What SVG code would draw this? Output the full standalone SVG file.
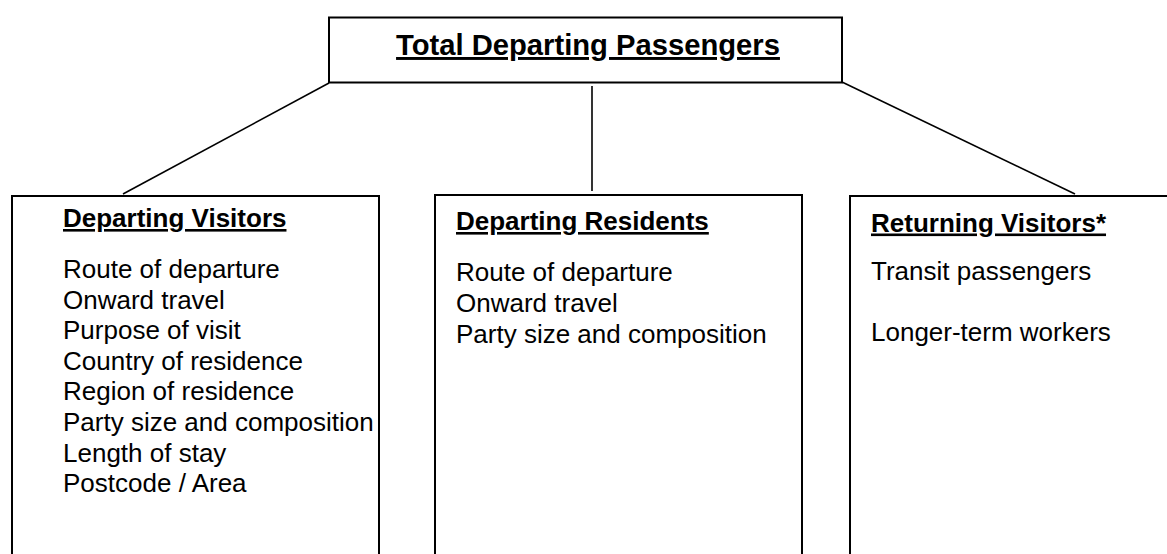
<svg xmlns="http://www.w3.org/2000/svg" width="1167" height="554" viewBox="0 0 1167 554">
<style>
.box{fill:#fff;stroke:#000;stroke-width:2}
.con{stroke:#000;stroke-width:1.6;fill:none}
text{font-family:"Liberation Sans",Arial,sans-serif;fill:#000}
.title{font-size:29.2px;font-weight:bold;text-decoration:underline}
.head{font-size:26px;font-weight:bold;text-decoration:underline}
.body{font-size:26px}
</style>
<rect width="1167" height="554" fill="#fff"/>
<g id="connectors">
<line class="con" x1="329" y1="83" x2="123" y2="194"/>
<line class="con" x1="592" y1="86" x2="592" y2="191"/>
<line class="con" x1="842" y1="82" x2="1075" y2="194"/>
</g>
<g id="total">
<rect class="box" x="329" y="17.5" width="513" height="65"/>
<text class="title" x="588" y="55" text-anchor="middle">Total Departing Passengers</text>
</g>
<g id="departing-visitors">
<rect class="box" x="12" y="196" width="367" height="380"/>
<text class="head" x="63" y="227">Departing Visitors</text>
<text class="body" x="63" y="278">Route of departure</text>
<text class="body" x="63" y="308.6">Onward travel</text>
<text class="body" x="63" y="339.2">Purpose of visit</text>
<text class="body" x="63" y="369.8">Country of residence</text>
<text class="body" x="63" y="400.4">Region of residence</text>
<text class="body" x="63" y="431">Party size and composition</text>
<text class="body" x="63" y="461.6">Length of stay</text>
<text class="body" x="63" y="492.2">Postcode / Area</text>
</g>
<g id="departing-residents">
<rect class="box" x="435" y="195" width="367" height="380"/>
<text class="head" x="456" y="230">Departing Residents</text>
<text class="body" x="456" y="281">Route of departure</text>
<text class="body" x="456" y="312">Onward travel</text>
<text class="body" x="456" y="343">Party size and composition</text>
</g>
<g id="returning-visitors">
<rect class="box" x="850" y="196" width="367" height="380"/>
<text class="head" x="871" y="231.5">Returning Visitors*</text>
<text class="body" x="871" y="280">Transit passengers</text>
<text class="body" x="871" y="340.5">Longer-term workers</text>
</g>
</svg>
